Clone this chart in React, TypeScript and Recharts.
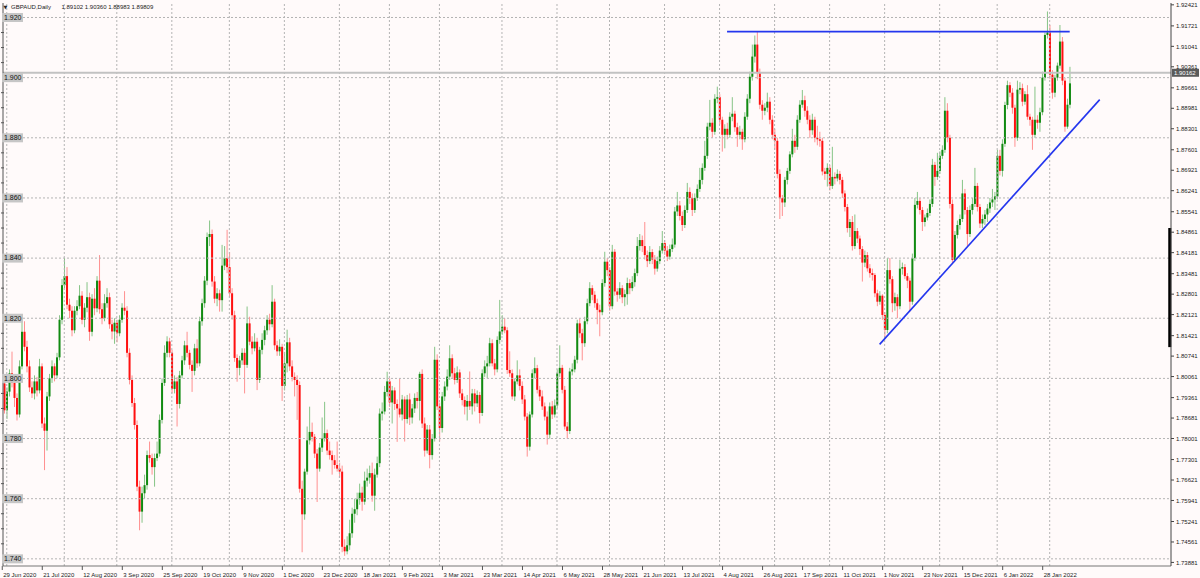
import React from "react";
import { Bar, ComposedChart, ReferenceLine, XAxis, YAxis } from "recharts";

// GBPAUD daily candles, 29 Jun 2020 .. 11 Feb 2022
const opens = [
  1.7983, 1.7894, 1.7956, 1.8017, 1.7985, 1.7935, 1.7880, 1.8040, 1.8155, 1.8105,
  1.8040, 1.7970, 1.7950, 1.7990, 1.7960, 1.8040, 1.7850, 1.7826, 1.7940, 1.8000,
  1.8040, 1.8010, 1.8070, 1.8195, 1.8310, 1.8340, 1.8245, 1.8225, 1.8160, 1.8225,
  1.8240, 1.8275, 1.8195, 1.8235, 1.8270, 1.8155, 1.8265, 1.8233, 1.8325, 1.8230,
  1.8200, 1.8250, 1.8270, 1.8180, 1.8156, 1.8185, 1.8150, 1.8195, 1.8235, 1.8225,
  1.8085, 1.7995, 1.7918, 1.7845, 1.7640, 1.7557, 1.7618, 1.7645, 1.7745, 1.7735,
  1.7705, 1.7735, 1.7750, 1.7862, 1.7985, 1.8085, 1.8123, 1.8085, 1.7965, 1.7990,
  1.7915, 1.8010, 1.8060, 1.8110, 1.8085, 1.8045, 1.8025, 1.8100, 1.8050, 1.8190,
  1.8250, 1.8325, 1.8470, 1.8480, 1.8322, 1.8265, 1.8283, 1.8260, 1.8375, 1.8400,
  1.8370, 1.8283, 1.8210, 1.8068, 1.8035, 1.8060, 1.8085, 1.8045, 1.8183, 1.8122,
  1.8100, 1.8122, 1.7995, 1.8095, 1.8128, 1.8160, 1.8195, 1.8180, 1.8255, 1.8110,
  1.8090, 1.8105, 1.7975, 1.8050, 1.8120, 1.8040, 1.8005, 1.7995, 1.7978, 1.7633,
  1.7548, 1.7690, 1.7794, 1.7822, 1.7806, 1.7750, 1.7700, 1.7770, 1.7800, 1.7818,
  1.7760, 1.7745, 1.7728, 1.7712, 1.7700, 1.7690, 1.7440, 1.7425, 1.7445, 1.7485,
  1.7550, 1.7565, 1.7598, 1.7620, 1.7590, 1.7660, 1.7670, 1.7685, 1.7610, 1.7680,
  1.7718, 1.7883, 1.7890, 1.7955, 1.7990, 1.7920, 1.7960, 1.7915, 1.7900, 1.7880,
  1.7930, 1.7865, 1.7930, 1.7870, 1.7900, 1.7935, 1.7925, 1.8015, 1.7850, 1.7760,
  1.7830, 1.7745, 1.7800, 1.8062, 1.7907, 1.7835, 1.7940, 1.7973, 1.8006, 1.8067,
  1.8017, 1.7995, 1.8020, 1.7950, 1.7928, 1.7906, 1.7925, 1.7907, 1.7950, 1.7917,
  1.7945, 1.7885, 1.8017, 1.8040, 1.8050, 1.8117, 1.8050, 1.8030, 1.8128, 1.8156,
  1.8172, 1.8160, 1.8028, 1.8017, 1.7940, 1.7990, 1.8010, 1.7975, 1.7930, 1.7873,
  1.7773, 1.7880, 1.8017, 1.8034, 1.7962, 1.7940, 1.7907, 1.7873, 1.7813, 1.7907,
  1.7880, 1.7910, 1.8017, 1.8035, 1.7962, 1.7840, 1.7825, 1.8023, 1.8030, 1.8062,
  1.8183, 1.8150, 1.8117, 1.8190, 1.8250, 1.8300, 1.8278, 1.8250, 1.8228, 1.8220,
  1.8317, 1.8388, 1.8360, 1.8240, 1.8421, 1.8289, 1.8278, 1.8300, 1.8270, 1.8280,
  1.8317, 1.8300, 1.8320, 1.8350, 1.8440, 1.8460, 1.8440, 1.8410, 1.8390, 1.8420,
  1.8395, 1.8365, 1.8390, 1.8425, 1.8450, 1.8425, 1.8405, 1.8430, 1.8445, 1.8555,
  1.8575, 1.8540, 1.8510, 1.8560, 1.8620, 1.8600, 1.8560, 1.8600, 1.8630, 1.8660,
  1.8700, 1.8740, 1.8837, 1.8850, 1.8820, 1.8930, 1.8935, 1.8860, 1.8810, 1.8830,
  1.8810, 1.8870, 1.8880, 1.8835, 1.8810, 1.8820, 1.8795, 1.8870, 1.8930, 1.9003,
  1.9070, 1.9110, 1.9015, 1.8910, 1.8890, 1.8900, 1.8920, 1.8860, 1.8810, 1.8790,
  1.8680, 1.8599, 1.8585, 1.8660, 1.8690, 1.8745, 1.8790, 1.8770, 1.8860, 1.8910,
  1.8925, 1.8890, 1.8860, 1.8825, 1.8860, 1.8800, 1.8795, 1.8790, 1.8688, 1.8680,
  1.8700, 1.8640, 1.8670, 1.8665, 1.8680, 1.8660, 1.8615, 1.8570, 1.8500, 1.8520,
  1.8440, 1.8490, 1.8465, 1.8430, 1.8385, 1.8410, 1.8366, 1.8350, 1.8344, 1.8283,
  1.8255, 1.8275, 1.8211, 1.8161, 1.8360, 1.8330, 1.8250, 1.8270, 1.8240, 1.8365,
  1.8370, 1.8340, 1.8325, 1.8255, 1.8400, 1.8577, 1.8590, 1.8560, 1.8520, 1.8535,
  1.8550, 1.8580, 1.8710, 1.8670, 1.8690, 1.8740, 1.8760, 1.8890, 1.8800, 1.8580,
  1.8394, 1.8477, 1.8510, 1.8530, 1.8615, 1.8560, 1.8480, 1.8560, 1.8580, 1.8640,
  1.8570, 1.8515, 1.8530, 1.8545, 1.8565, 1.8585, 1.8595, 1.8605, 1.8740, 1.8690,
  1.8780, 1.8909, 1.8975, 1.8950, 1.8900, 1.8800, 1.8960, 1.8965, 1.8920, 1.8945,
  1.8870, 1.8860, 1.8810, 1.8860, 1.8850, 1.8885, 1.9000, 1.9142, 1.9150, 1.9010,
  1.8950, 1.9000, 1.9040, 1.9120, 1.8990, 1.8837, 1.8910,
];

const highs = [
  1.8006, 1.7970, 1.8030, 1.8089, 1.8000, 1.7950, 1.8060, 1.8200, 1.8190, 1.8125,
  1.8060, 1.7990, 1.8010, 1.8005, 1.8065, 1.8050, 1.7870, 1.7955, 1.8015, 1.8060,
  1.8050, 1.8085, 1.8210, 1.8330, 1.8400, 1.8370, 1.8265, 1.8240, 1.8240, 1.8260,
  1.8310, 1.8290, 1.8250, 1.8320, 1.8285, 1.8280, 1.8300, 1.8340, 1.8410, 1.8250,
  1.8280, 1.8300, 1.8285, 1.8195, 1.8200, 1.8195, 1.8210, 1.8250, 1.8290, 1.8240,
  1.8100, 1.8010, 1.7935, 1.7860, 1.7660, 1.7640, 1.7680, 1.7760, 1.7790, 1.7750,
  1.7750, 1.7790, 1.7880, 1.8000, 1.8110, 1.8140, 1.8135, 1.8095, 1.8010, 1.8005,
  1.8025, 1.8075, 1.8125, 1.8155, 1.8095, 1.8060, 1.8115, 1.8130, 1.8205, 1.8265,
  1.8340, 1.8485, 1.8525, 1.8495, 1.8340, 1.8300, 1.8295, 1.8444, 1.8440, 1.8494,
  1.8420, 1.8300, 1.8225, 1.8080, 1.8075, 1.8100, 1.8100, 1.8239, 1.8205, 1.8140,
  1.8150, 1.8135, 1.8105, 1.8150, 1.8175, 1.8210, 1.8215, 1.8310, 1.8265, 1.8125,
  1.8130, 1.8115, 1.8088, 1.8162, 1.8135, 1.8060, 1.8020, 1.8010, 1.7990, 1.7660,
  1.7700, 1.7840, 1.7906, 1.7853, 1.7815, 1.7765, 1.7785, 1.7870, 1.7922, 1.7830,
  1.7790, 1.7760, 1.7745, 1.7790, 1.7720, 1.7710, 1.7465, 1.7475, 1.7530, 1.7570,
  1.7600, 1.7620, 1.7650, 1.7640, 1.7690, 1.7700, 1.7710, 1.7720, 1.7700, 1.7740,
  1.7900, 1.7920, 1.7975, 1.8022, 1.8000, 1.7975, 1.7970, 1.7930, 1.8000, 1.7945,
  1.7940, 1.7945, 1.7950, 1.7915, 1.7950, 1.7955, 1.8022, 1.8030, 1.7870, 1.7845,
  1.7845, 1.7815, 1.8105, 1.8080, 1.7920, 1.7955, 1.7990, 1.8030, 1.8110, 1.8080,
  1.8035, 1.8040, 1.8030, 1.7965, 1.7940, 1.7945, 1.8023, 1.7965, 1.7965, 1.7960,
  1.7955, 1.8030, 1.8060, 1.8075, 1.8135, 1.8130, 1.8065, 1.8140, 1.8261, 1.8210,
  1.8200, 1.8170, 1.8090, 1.8030, 1.8000, 1.8060, 1.8030, 1.7990, 1.7945, 1.7885,
  1.7890, 1.8030, 1.8070, 1.8045, 1.7975, 1.7960, 1.7920, 1.7890, 1.7920, 1.7925,
  1.7930, 1.8030, 1.8110, 1.8045, 1.7975, 1.7855, 1.8035, 1.8050, 1.8075, 1.8195,
  1.8200, 1.8165, 1.8205, 1.8265, 1.8320, 1.8310, 1.8290, 1.8265, 1.8245, 1.8330,
  1.8421, 1.8400, 1.8370, 1.8444, 1.8430, 1.8300, 1.8320, 1.8310, 1.8295, 1.8335,
  1.8330, 1.8340, 1.8365, 1.8470, 1.8480, 1.8475, 1.8520, 1.8425, 1.8440, 1.8430,
  1.8410, 1.8405, 1.8440, 1.8490, 1.8460, 1.8440, 1.8445, 1.8465, 1.8570, 1.8620,
  1.8590, 1.8555, 1.8575, 1.8650, 1.8635, 1.8615, 1.8615, 1.8645, 1.8700, 1.8715,
  1.8790, 1.8850, 1.8926, 1.8865, 1.8945, 1.8970, 1.8945, 1.8870, 1.8845, 1.8850,
  1.8885, 1.8935, 1.8890, 1.8850, 1.8840, 1.8830, 1.8885, 1.8945, 1.9020, 1.9110,
  1.9140, 1.9153, 1.9030, 1.8925, 1.8915, 1.8950, 1.8935, 1.8875, 1.8830, 1.8800,
  1.8695, 1.8610, 1.8670, 1.8700, 1.8755, 1.8830, 1.8810, 1.8875, 1.8925, 1.8959,
  1.8940, 1.8905, 1.8875, 1.8880, 1.8870, 1.8840, 1.8820, 1.8800, 1.8700, 1.8715,
  1.8710, 1.8770, 1.8685, 1.8695, 1.8690, 1.8670, 1.8625, 1.8580, 1.8530, 1.8540,
  1.8545, 1.8500, 1.8475, 1.8440, 1.8425, 1.8420, 1.8380, 1.8365, 1.8350, 1.8295,
  1.8290, 1.8280, 1.8220, 1.8400, 1.8400, 1.8340, 1.8285, 1.8280, 1.8395, 1.8385,
  1.8380, 1.8350, 1.8335, 1.8415, 1.8600, 1.8620, 1.8600, 1.8570, 1.8545, 1.8565,
  1.8595, 1.8730, 1.8720, 1.8750, 1.8755, 1.8775, 1.8935, 1.8915, 1.8810, 1.8595,
  1.8490, 1.8525, 1.8545, 1.8660, 1.8630, 1.8570, 1.8575, 1.8600, 1.8700, 1.8650,
  1.8580, 1.8545, 1.8560, 1.8580, 1.8600, 1.8630, 1.8620, 1.8760, 1.8760, 1.8795,
  1.8920, 1.8990, 1.8985, 1.8965, 1.8910, 1.8990, 1.8985, 1.8980, 1.8955, 1.8975,
  1.8880, 1.8870, 1.8970, 1.8875, 1.8900, 1.9020, 1.9150, 1.9220, 1.9175, 1.9025,
  1.9010, 1.9050, 1.9175, 1.9135, 1.9000, 1.8930, 1.9036,
];

const lows = [
  1.7883, 1.7865, 1.7940, 1.7970, 1.7905, 1.7860, 1.7870, 1.8030, 1.8090, 1.8020,
  1.7955, 1.7935, 1.7930, 1.7940, 1.7950, 1.7835, 1.7695, 1.7760, 1.7925, 1.7985,
  1.7990, 1.8000, 1.8060, 1.8180, 1.8300, 1.8230, 1.8200, 1.8140, 1.8150, 1.8210,
  1.8230, 1.8180, 1.8170, 1.8220, 1.8125, 1.8140, 1.8210, 1.8220, 1.8215, 1.8180,
  1.8190, 1.8235, 1.8165, 1.8130, 1.8115, 1.8120, 1.8140, 1.8185, 1.8210, 1.8070,
  1.7980, 1.7905, 1.7830, 1.7625, 1.7495, 1.7520, 1.7600, 1.7630, 1.7720, 1.7680,
  1.7640, 1.7725, 1.7740, 1.7850, 1.7975, 1.8070, 1.8070, 1.7950, 1.7950, 1.7840,
  1.7900, 1.8000, 1.8045, 1.8070, 1.8030, 1.7955, 1.8010, 1.8035, 1.8040, 1.8175,
  1.8235, 1.8310, 1.8440, 1.8305, 1.8250, 1.8240, 1.8222, 1.8222, 1.8360, 1.8350,
  1.8270, 1.8195, 1.8055, 1.7989, 1.8010, 1.8045, 1.7950, 1.8035, 1.8110, 1.8080,
  1.8090, 1.7961, 1.7985, 1.8080, 1.8110, 1.8145, 1.8160, 1.8170, 1.8095, 1.8075,
  1.8075, 1.7925, 1.7960, 1.8020, 1.8025, 1.7990, 1.7940, 1.7862, 1.7620, 1.7422,
  1.7530, 1.7680, 1.7780, 1.7790, 1.7735, 1.7589, 1.7690, 1.7755, 1.7790, 1.7745,
  1.7730, 1.7680, 1.7700, 1.7690, 1.7670, 1.7422, 1.7410, 1.7415, 1.7430, 1.7470,
  1.7520, 1.7545, 1.7580, 1.7560, 1.7580, 1.7640, 1.7650, 1.7590, 1.7560, 1.7670,
  1.7705, 1.7860, 1.7880, 1.7940, 1.7905, 1.7850, 1.7895, 1.7789, 1.7870, 1.7860,
  1.7790, 1.7850, 1.7845, 1.7850, 1.7885, 1.7900, 1.7860, 1.7835, 1.7740, 1.7750,
  1.7701, 1.7730, 1.7790, 1.7895, 1.7790, 1.7820, 1.7925, 1.7960, 1.7995, 1.8000,
  1.7980, 1.7985, 1.7935, 1.7910, 1.7880, 1.7860, 1.7895, 1.7880, 1.7890, 1.7905,
  1.7850, 1.7875, 1.8005, 1.8000, 1.8040, 1.8040, 1.8010, 1.8020, 1.8115, 1.8145,
  1.8150, 1.8015, 1.8005, 1.7930, 1.7925, 1.7980, 1.7960, 1.7915, 1.7860, 1.7740,
  1.7760, 1.7870, 1.8000, 1.7950, 1.7925, 1.7895, 1.7860, 1.7780, 1.7800, 1.7865,
  1.7870, 1.7900, 1.8005, 1.7950, 1.7830, 1.7800, 1.7815, 1.8010, 1.8020, 1.8050,
  1.8135, 1.8060, 1.8105, 1.8180, 1.8240, 1.8260, 1.8235, 1.8180, 1.8140, 1.8210,
  1.8305, 1.8340, 1.8225, 1.8230, 1.8275, 1.8255, 1.8265, 1.8250, 1.8240, 1.8245,
  1.8280, 1.8290, 1.8305, 1.8340, 1.8425, 1.8420, 1.8395, 1.8370, 1.8380, 1.8380,
  1.8345, 1.8355, 1.8380, 1.8415, 1.8410, 1.8390, 1.8395, 1.8420, 1.8435, 1.8540,
  1.8525, 1.8490, 1.8500, 1.8550, 1.8580, 1.8540, 1.8550, 1.8590, 1.8620, 1.8645,
  1.8690, 1.8730, 1.8825, 1.8800, 1.8810, 1.8915, 1.8845, 1.8754, 1.8765, 1.8795,
  1.8800, 1.8855, 1.8820, 1.8770, 1.8795, 1.8760, 1.8785, 1.8860, 1.8915, 1.8990,
  1.9050, 1.8995, 1.8895, 1.8860, 1.8875, 1.8885, 1.8845, 1.8795, 1.8760, 1.8665,
  1.8530, 1.8540, 1.8570, 1.8645, 1.8680, 1.8735, 1.8750, 1.8760, 1.8850, 1.8900,
  1.8870, 1.8845, 1.8800, 1.8810, 1.8785, 1.8775, 1.8770, 1.8675, 1.8660, 1.8638,
  1.8625, 1.8630, 1.8645, 1.8655, 1.8645, 1.8600, 1.8555, 1.8485, 1.8470, 1.8425,
  1.8430, 1.8450, 1.8410, 1.8322, 1.8370, 1.8355, 1.8335, 1.8325, 1.8270, 1.8240,
  1.8245, 1.8195, 1.8133, 1.8150, 1.8315, 1.8220, 1.8225, 1.8200, 1.8230, 1.8345,
  1.8330, 1.8300, 1.8222, 1.8245, 1.8390, 1.8565, 1.8545, 1.8490, 1.8505, 1.8525,
  1.8540, 1.8570, 1.8640, 1.8660, 1.8680, 1.8730, 1.8750, 1.8785, 1.8565, 1.8382,
  1.8390, 1.8465, 1.8495, 1.8520, 1.8545, 1.8440, 1.8470, 1.8545, 1.8570, 1.8555,
  1.8500, 1.8500, 1.8510, 1.8520, 1.8550, 1.8570, 1.8560, 1.8595, 1.8675, 1.8671,
  1.8770, 1.8895, 1.8935, 1.8880, 1.8770, 1.8790, 1.8945, 1.8905, 1.8910, 1.8860,
  1.8840, 1.8760, 1.8800, 1.8830, 1.8820, 1.8875, 1.8990, 1.9130, 1.8995, 1.8930,
  1.8935, 1.8990, 1.9030, 1.8975, 1.8820, 1.8830, 1.8898,
];

const closes = [
  1.7894, 1.7956, 1.8017, 1.7985, 1.7935, 1.7880, 1.8040, 1.8155, 1.8105, 1.8040,
  1.7970, 1.7950, 1.7990, 1.7960, 1.8040, 1.7850, 1.7826, 1.7940, 1.8000, 1.8040,
  1.8010, 1.8070, 1.8195, 1.8310, 1.8340, 1.8245, 1.8225, 1.8160, 1.8225, 1.8240,
  1.8275, 1.8195, 1.8235, 1.8270, 1.8155, 1.8265, 1.8233, 1.8325, 1.8230, 1.8200,
  1.8250, 1.8270, 1.8180, 1.8156, 1.8185, 1.8150, 1.8195, 1.8235, 1.8225, 1.8085,
  1.7995, 1.7918, 1.7845, 1.7640, 1.7557, 1.7618, 1.7645, 1.7745, 1.7735, 1.7705,
  1.7735, 1.7750, 1.7862, 1.7985, 1.8085, 1.8123, 1.8085, 1.7965, 1.7990, 1.7915,
  1.8010, 1.8060, 1.8110, 1.8085, 1.8045, 1.8025, 1.8100, 1.8050, 1.8190, 1.8250,
  1.8325, 1.8470, 1.8480, 1.8322, 1.8265, 1.8283, 1.8260, 1.8375, 1.8400, 1.8370,
  1.8283, 1.8210, 1.8068, 1.8035, 1.8060, 1.8085, 1.8045, 1.8183, 1.8122, 1.8100,
  1.8122, 1.7995, 1.8095, 1.8128, 1.8160, 1.8195, 1.8180, 1.8255, 1.8110, 1.8090,
  1.8105, 1.7975, 1.8050, 1.8120, 1.8040, 1.8005, 1.7995, 1.7978, 1.7633, 1.7548,
  1.7690, 1.7794, 1.7822, 1.7806, 1.7750, 1.7700, 1.7770, 1.7800, 1.7818, 1.7760,
  1.7745, 1.7728, 1.7712, 1.7700, 1.7690, 1.7440, 1.7425, 1.7445, 1.7485, 1.7550,
  1.7565, 1.7598, 1.7620, 1.7590, 1.7660, 1.7670, 1.7685, 1.7610, 1.7680, 1.7718,
  1.7883, 1.7890, 1.7955, 1.7990, 1.7920, 1.7960, 1.7915, 1.7900, 1.7880, 1.7930,
  1.7865, 1.7930, 1.7870, 1.7900, 1.7935, 1.7925, 1.8015, 1.7850, 1.7760, 1.7830,
  1.7745, 1.7800, 1.8062, 1.7907, 1.7835, 1.7940, 1.7973, 1.8006, 1.8067, 1.8017,
  1.7995, 1.8020, 1.7950, 1.7928, 1.7906, 1.7925, 1.7907, 1.7950, 1.7917, 1.7945,
  1.7885, 1.8017, 1.8040, 1.8050, 1.8117, 1.8050, 1.8030, 1.8128, 1.8156, 1.8172,
  1.8160, 1.8028, 1.8017, 1.7940, 1.7990, 1.8010, 1.7975, 1.7930, 1.7873, 1.7773,
  1.7880, 1.8017, 1.8034, 1.7962, 1.7940, 1.7907, 1.7873, 1.7813, 1.7907, 1.7880,
  1.7910, 1.8017, 1.8035, 1.7962, 1.7840, 1.7825, 1.8023, 1.8030, 1.8062, 1.8183,
  1.8150, 1.8117, 1.8190, 1.8250, 1.8300, 1.8278, 1.8250, 1.8228, 1.8220, 1.8317,
  1.8388, 1.8360, 1.8240, 1.8421, 1.8289, 1.8278, 1.8300, 1.8270, 1.8280, 1.8317,
  1.8300, 1.8320, 1.8350, 1.8440, 1.8460, 1.8440, 1.8410, 1.8390, 1.8420, 1.8395,
  1.8365, 1.8390, 1.8425, 1.8450, 1.8425, 1.8405, 1.8430, 1.8445, 1.8555, 1.8575,
  1.8540, 1.8510, 1.8560, 1.8620, 1.8600, 1.8560, 1.8600, 1.8630, 1.8660, 1.8700,
  1.8740, 1.8837, 1.8850, 1.8820, 1.8930, 1.8935, 1.8860, 1.8810, 1.8830, 1.8810,
  1.8870, 1.8880, 1.8835, 1.8810, 1.8820, 1.8795, 1.8870, 1.8930, 1.9003, 1.9070,
  1.9110, 1.9015, 1.8910, 1.8890, 1.8900, 1.8920, 1.8860, 1.8810, 1.8790, 1.8680,
  1.8599, 1.8585, 1.8660, 1.8690, 1.8745, 1.8790, 1.8770, 1.8860, 1.8910, 1.8925,
  1.8890, 1.8860, 1.8825, 1.8860, 1.8800, 1.8795, 1.8790, 1.8688, 1.8680, 1.8700,
  1.8640, 1.8670, 1.8665, 1.8680, 1.8660, 1.8615, 1.8570, 1.8500, 1.8520, 1.8440,
  1.8490, 1.8465, 1.8430, 1.8385, 1.8410, 1.8366, 1.8350, 1.8344, 1.8283, 1.8255,
  1.8275, 1.8211, 1.8161, 1.8360, 1.8330, 1.8250, 1.8270, 1.8240, 1.8365, 1.8370,
  1.8340, 1.8325, 1.8255, 1.8400, 1.8577, 1.8590, 1.8560, 1.8520, 1.8535, 1.8550,
  1.8580, 1.8710, 1.8670, 1.8690, 1.8740, 1.8760, 1.8890, 1.8800, 1.8580, 1.8394,
  1.8477, 1.8510, 1.8530, 1.8615, 1.8560, 1.8480, 1.8560, 1.8580, 1.8640, 1.8570,
  1.8515, 1.8530, 1.8545, 1.8565, 1.8585, 1.8595, 1.8605, 1.8740, 1.8690, 1.8780,
  1.8909, 1.8975, 1.8950, 1.8900, 1.8800, 1.8960, 1.8965, 1.8920, 1.8945, 1.8870,
  1.8860, 1.8810, 1.8860, 1.8850, 1.8885, 1.9000, 1.9142, 1.9150, 1.9010, 1.8950,
  1.9000, 1.9040, 1.9120, 1.8990, 1.8837, 1.8910, 1.8981,
];

const dateLabels = [
  "29 Jun 2020", "21 Jul 2020", "12 Aug 2020", "3 Sep 2020", "25 Sep 2020",
  "19 Oct 2020", "9 Nov 2020", "1 Dec 2020", "23 Dec 2020", "18 Jan 2021",
  "9 Feb 2021", "3 Mar 2021", "23 Mar 2021", "14 Apr 2021", "6 May 2021",
  "28 May 2021", "21 Jun 2021", "13 Jul 2021", "4 Aug 2021", "26 Aug 2021",
  "17 Sep 2021", "11 Oct 2021", "1 Nov 2021", "23 Nov 2021", "15 Dec 2021",
  "6 Jan 2022", "28 Jan 2022",
];
const dateTicks = [
  0, 16, 32, 48, 64, 80, 96, 112, 128, 144, 160, 176, 192, 208, 224, 240, 256,
  272, 288, 304, 320, 336, 352, 368, 384, 400, 416,
];
// bar index of the first trading day of each month (vertical grid)
const monthStarts = [
  1, 24, 45, 67, 90, 112, 134, 154, 174, 199, 221, 242, 264, 286, 308, 330, 352,
  374, 397, 418,
];

const priceGrid = [1.92, 1.9, 1.88, 1.86, 1.84, 1.82, 1.8, 1.78, 1.76, 1.74];
const leftTicks = [
  1.74, 1.745, 1.75, 1.755, 1.76, 1.765, 1.77, 1.775, 1.78, 1.785, 1.79, 1.795,
  1.8, 1.805, 1.81, 1.815, 1.82, 1.825, 1.83, 1.835, 1.84, 1.845, 1.85, 1.855,
  1.86, 1.865, 1.87, 1.875, 1.88, 1.885, 1.89, 1.895, 1.9, 1.905, 1.91, 1.915,
  1.92,
];
const rightTicks = [
  1.92421, 1.91721, 1.91041, 1.90361, 1.89661, 1.88981, 1.88301, 1.87601,
  1.86921, 1.86241, 1.85541, 1.84861, 1.84181, 1.83481, 1.82801, 1.82121,
  1.81421, 1.80741, 1.80061, 1.79361, 1.78681, 1.78001, 1.77301, 1.76621,
  1.75941, 1.75241, 1.74561, 1.73881,
];

const CURRENT_PRICE = 1.90162;
const RESISTANCE = 1.9153;
const resistanceBars = [289, 426];
const trendBars = [350, 438];
const trendPrices = [1.8113, 1.8927];
const scrollMark = [1.85, 1.8104];
const EMPTY_BARS = 40; // chart shift on the right
const Y_DOMAIN: [number, number] = [1.73762, 1.92482];

const BG = "#fffafa";
const GRID = "#b4b4b4";
const UP = "#118a11";
const UP_WICK = "#86c486";
const DOWN = "#ff1010";
const DOWN_WICK = "#ff9090";
const BLUE = "#2436ee";
const FONT = "'Liberation Sans', Arial, sans-serif";

interface Row {
  i: number;
  o: number | null;
  h: number | null;
  l: number | null;
  c: number | null;
}

const rows: Row[] = [];
for (let i = 0; i < closes.length + EMPTY_BARS; i++) {
  if (i < closes.length) {
    rows.push({ i, o: opens[i], h: highs[i], l: lows[i], c: closes[i] });
  } else {
    rows.push({ i, o: null, h: null, l: null, c: null });
  }
}

const wickRange = (r: Row) =>
  r.c == null
    ? null
    : [Math.min(r.l as number, r.o as number, r.c), Math.max(r.h as number, r.o as number, r.c)];

function Candle(props: any) {
  const { x, y, width, height, payload } = props;
  if (!payload || payload.c == null || !isFinite(y) || !isFinite(height)) return null;
  const o = payload.o as number;
  const c = payload.c as number;
  const hi = Math.max(payload.h, o, c);
  const lo = Math.min(payload.l, o, c);
  const top = Math.min(y, y + height);
  const span = Math.abs(height);
  const k = hi > lo ? span / (hi - lo) : 0;
  const py = (p: number) => top + (hi - p) * k;
  const cx = x + width / 2;
  const up = c >= o;
  const bTop = py(Math.max(o, c));
  const bBot = py(Math.min(o, c));
  return (
    <g>
      <line
        x1={cx}
        x2={cx}
        y1={top}
        y2={top + span}
        stroke={up ? UP_WICK : DOWN_WICK}
        strokeWidth={1}
      />
      <rect
        x={cx - 1}
        y={bTop}
        width={2}
        height={Math.max(1, bBot - bTop)}
        fill={up ? UP : DOWN}
      />
    </g>
  );
}

function DateTick(props: any) {
  const { x, y, payload } = props;
  const k = dateTicks.indexOf(payload.value);
  if (k < 0) return null;
  const tx = x - 2;
  return (
    <g>
      <line x1={tx} x2={tx} y1={y} y2={y + 4} stroke="#555" />
      <text x={tx + 1} y={y + 10.5} fontSize={6} fill="#1a1a1a" fontFamily={FONT}>
        {dateLabels[k]}
      </text>
    </g>
  );
}

function LeftTick(props: any) {
  const { x, y, payload } = props;
  const v = payload.value as number;
  const major = priceGrid.some((g) => Math.abs(g - v) < 1e-6);
  if (!major) {
    return <line x1={x - 2} x2={x + 1} y1={y} y2={y} stroke="#555" />;
  }
  return (
    <g>
      <rect x={x - 1} y={y - 4.5} width={21} height={9} fill="#c6c6c6" />
      <text x={x + 1} y={y + 2.4} fontSize={7} fill="#111" fontFamily={FONT}>
        {v.toFixed(3)}
      </text>
    </g>
  );
}

function RightTick(props: any) {
  const { x, y, payload } = props;
  const v = payload.value as number;
  return (
    <g>
      <line x1={x} x2={x + 3} y1={y} y2={y} stroke="#444" />
      <text x={x + 5} y={y + 2.2} fontSize={6} fill="#1a1a1a" fontFamily={FONT}>
        {v.toFixed(5)}
      </text>
    </g>
  );
}

function PriceTag(props: any) {
  const vb = props.viewBox || {};
  const x = (vb.x ?? 0) + (vb.width ?? 0);
  const y = vb.y ?? 0;
  return (
    <g>
      <rect x={x + 1} y={y - 4} width={27} height={8} fill="#5b5b5b" />
      <text x={x + 3} y={y + 2.2} fontSize={6} fill="#ffffff" fontFamily={FONT}>
        {CURRENT_PRICE.toFixed(5)}
      </text>
    </g>
  );
}

export default function App() {
  return (
    <div
      style={{
        position: "fixed",
        left: 0,
        top: 0,
        width: 1200,
        height: 578,
        background: BG,
        overflow: "hidden",
      }}
    >
      <ComposedChart
        width={1200}
        height={578}
        data={rows}
        margin={{ top: 3, right: 0, bottom: 0, left: 0 }}
        barCategoryGap={0}
        barGap={0}
      >
        <XAxis
          dataKey="i"
          ticks={dateTicks}
          interval={0}
          height={12}
          tickSize={0}
          tickMargin={0}
          tickLine={false}
          axisLine={{ stroke: "#777" }}
          tick={<DateTick />}
        />
        <YAxis
          yAxisId="left"
          orientation="left"
          width={3}
          domain={Y_DOMAIN}
          allowDataOverflow
          ticks={leftTicks}
          interval={0}
          tickSize={0}
          tickMargin={0}
          tickLine={false}
          axisLine={{ stroke: "#555" }}
          tick={<LeftTick />}
        />
        <YAxis
          yAxisId="right"
          orientation="right"
          width={29}
          domain={Y_DOMAIN}
          allowDataOverflow
          ticks={rightTicks}
          interval={0}
          tickSize={0}
          tickMargin={0}
          tickLine={false}
          axisLine={{ stroke: "#444" }}
          tick={<RightTick />}
        />
        {priceGrid.map((v) => (
          <ReferenceLine
            key={"h" + v}
            yAxisId="left"
            y={v}
            stroke={GRID}
            strokeDasharray="2 2"
          />
        ))}
        {monthStarts.map((m) => (
          <ReferenceLine
            key={"v" + m}
            yAxisId="left"
            x={m}
            stroke={GRID}
            strokeDasharray="2 2"
          />
        ))}
        <ReferenceLine
          yAxisId="left"
          y={CURRENT_PRICE}
          stroke="#c2c2c2"
          strokeWidth={2}
          label={<PriceTag />}
        />
        <Bar
          yAxisId="left"
          dataKey={wickRange as any}
          shape={<Candle />}
          isAnimationActive={false}
        />
        <ReferenceLine
          yAxisId="left"
          segment={[
            { x: resistanceBars[0], y: RESISTANCE },
            { x: resistanceBars[1], y: RESISTANCE },
          ]}
          stroke={BLUE}
          strokeWidth={1.6}
        />
        <ReferenceLine
          yAxisId="left"
          segment={[
            { x: trendBars[0], y: trendPrices[0] },
            { x: trendBars[1], y: trendPrices[1] },
          ]}
          stroke={BLUE}
          strokeWidth={1.6}
        />
        <ReferenceLine
          yAxisId="left"
          segment={[
            { x: rows.length - 1, y: scrollMark[0] },
            { x: rows.length - 1, y: scrollMark[1] },
          ]}
          stroke="#000"
          strokeWidth={3}
        />
      </ComposedChart>
      <svg
        width={300}
        height={14}
        style={{ position: "absolute", left: 0, top: 0, pointerEvents: "none" }}
      >
        <text x={3.5} y={9} fontSize={5} fill="#222" fontFamily="'DejaVu Sans', sans-serif">
          ▼
        </text>
        <text x={11} y={9} fontSize={6} fill="#222" fontFamily={FONT}>
          GBPAUD,Daily
        </text>
        <text x={61.5} y={9} fontSize={6} fill="#222" fontFamily={FONT}>
          1.89102 1.90360 1.88983 1.89809
        </text>
      </svg>
    </div>
  );
}
